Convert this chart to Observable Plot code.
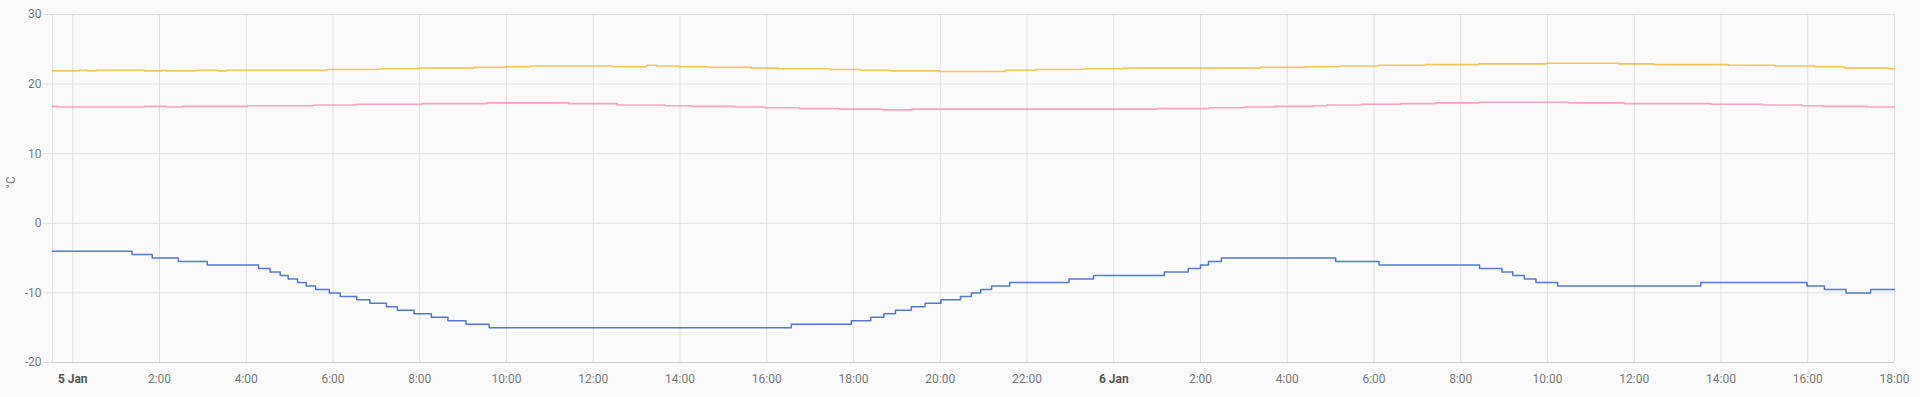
<!DOCTYPE html>
<html><head><meta charset="utf-8">
<script src="https://cdn.jsdelivr.net/npm/d3@7"></script>
<script src="https://cdn.jsdelivr.net/npm/@observablehq/plot@0.6"></script>
<style>
html,body{margin:0;padding:0;background:#fafafa;}
</style></head><body><div id="chart"></div>
<script>
// Time window ("D HH:MM", January)
const windowStart = "4 23:32";
const windowEnd = "6 18:00";

// Outdoor temperature (blue)
const outdoorTimes = ["4 23:32","5 01:22","5 01:50","5 02:26","5 03:06","5 04:17","5 04:33","5 04:47","5 04:58","5 05:11","5 05:23","5 05:36","5 05:55","5 06:10","5 06:33","5 06:51","5 07:14","5 07:29","5 07:52","5 08:16","5 08:39","5 09:04","5 09:36","5 16:34","5 17:57","5 18:24","5 18:42","5 18:58","5 19:20","5 19:39","5 20:01","5 20:28","5 20:43","5 20:56","5 21:11","5 21:36","5 22:58","5 23:32","6 01:10","6 01:43","6 02:00","6 02:11","6 02:29","6 05:07","6 06:07","6 08:26","6 08:57","6 09:12","6 09:28","6 09:44","6 10:14","6 13:32","6 15:59","6 16:23","6 16:53","6 17:27"];
const outdoorValues = [-4,-4.5,-5,-5.5,-6,-6.5,-7,-7.5,-8,-8.5,-9,-9.5,-10,-10.5,-11,-11.5,-12,-12.5,-13,-13.5,-14,-14.5,-15,-14.5,-14,-13.5,-13,-12.5,-12,-11.5,-11,-10.5,-10,-9.5,-9,-8.5,-8,-7.5,-7,-6.5,-6,-5.5,-5,-5.5,-6,-6.5,-7,-7.5,-8,-8.5,-9,-8.5,-9,-9.5,-10,-9.5];

// Living room temperature (yellow)
const livingTimes = ["4 23:32","5 00:09","5 00:20","5 00:33","5 01:39","5 02:04","5 02:09","5 02:52","5 03:21","5 03:33","5 05:51","5 07:04","5 07:57","5 09:15","5 09:58","5 10:33","5 12:27","5 13:14","5 13:27","5 13:58","5 14:39","5 15:39","5 16:16","5 17:27","5 18:10","5 18:51","5 19:59","5 21:30","5 22:12","5 23:18","6 00:13","6 03:23","6 04:25","6 05:12","6 06:07","6 07:12","6 08:25","6 09:58","6 11:39","6 12:27","6 14:10","6 15:15","6 16:09","6 16:51","6 17:52"];
const livingValues = [21.9,22.0,21.9,22.0,21.9,22.0,21.9,22.0,21.9,22.0,22.1,22.2,22.3,22.4,22.5,22.6,22.5,22.7,22.6,22.5,22.4,22.3,22.2,22.1,22.0,21.9,21.8,22.0,22.1,22.2,22.3,22.4,22.5,22.6,22.7,22.8,22.9,23.0,22.9,22.8,22.7,22.6,22.5,22.3,22.2];

// Bedroom temperature (pink)
const bedroomTimes = ["4 23:32","4 23:39","5 01:39","5 02:09","5 02:32","5 04:02","5 05:33","5 06:33","5 08:03","5 09:33","5 11:26","5 12:33","5 13:39","5 14:15","5 15:16","5 15:57","5 16:45","5 17:40","5 18:40","5 19:21","6 01:00","6 02:12","6 03:00","6 03:43","6 04:36","6 04:55","6 05:43","6 06:37","6 07:25","6 08:25","6 10:29","6 11:46","6 13:46","6 14:58","6 15:52","6 16:21","6 17:22"];
const bedroomValues = [16.8,16.7,16.8,16.7,16.8,16.9,17.0,17.1,17.2,17.3,17.2,17.0,16.9,16.8,16.7,16.6,16.5,16.4,16.3,16.4,16.5,16.6,16.7,16.8,16.9,17.0,17.1,17.2,17.3,17.4,17.3,17.2,17.1,17.0,16.9,16.8,16.7];

const yTicks = [-20, -10, 0, 10, 20, 30];
const yLabel = "°C";
const monthName = "Jan";

const colors = {outdoor: "#4269d0", living: "#efb118", bedroom: "#ff8ab7"};

function parseT(s) {
  const [d, hm] = s.split(" ");
  const [h, m] = hm.split(":").map(Number);
  return new Date(2025, 0, +d, h, m);
}
const start = parseT(windowStart), end = parseT(windowEnd);
function series(times, values) {
  const rows = times.map((t, i) => ({t: parseT(t), v: values[i]}));
  rows.push({t: end, v: values[values.length - 1]});
  return rows;
}
const outdoor = series(outdoorTimes, outdoorValues);
const living = series(livingTimes, livingValues);
const bedroom = series(bedroomTimes, bedroomValues);

const xTicks = d3.timeHour.every(2).range(d3.timeHour.ceil(start), new Date(+end + 1));
const midnightTicks = xTicks.filter(d => d.getHours() === 0);
const hourTicks = xTicks.filter(d => d.getHours() !== 0);

const chart = Plot.plot({
  width: 1920, height: 397,
  marginLeft: 52, marginRight: 26, marginTop: 14, marginBottom: 35,
  style: {background: "#fafafa", fontFamily: "Roboto, sans-serif", fontSize: "12px", overflow: "visible"},
  x: {type: "time", domain: [start, end]},
  y: {domain: [-20, 30]},
  marks: [
    Plot.gridX(xTicks, {stroke: "#e2e2e2", strokeOpacity: 1}),
    Plot.gridY(yTicks, {stroke: "#e2e2e2", strokeOpacity: 1}),
    Plot.ruleX([start], {stroke: "#e2e2e2"}),
    Plot.axisY(yTicks, {tickSize: 9, tickPadding: 2, stroke: "#e2e2e2", fill: "#7a7a7a", label: null, tickFormat: d => String(d)}),
    Plot.text([yLabel], {frameAnchor: "left", dx: -41, rotate: -90, fill: "#7a7a7a", fontSize: 12}),
    Plot.ruleY([-20], {stroke: "#cfcfcf"}),
    Plot.axisX(hourTicks, {tickSize: 0, tickPadding: 12, fill: "#7a7a7a", label: null, tickFormat: d => `${d.getHours()}:00`}),
    Plot.axisX(midnightTicks, {tickSize: 0, tickPadding: 12, fill: "#555", fontWeight: "bold", label: null, tickFormat: d => `${d.getDate()} ${monthName}`}),
    Plot.line(living, {x: "t", y: "v", curve: "step-after", stroke: colors.living, strokeOpacity: 0.72, strokeWidth: 1.6}),
    Plot.line(bedroom, {x: "t", y: "v", curve: "step-after", stroke: colors.bedroom, strokeOpacity: 0.8, strokeWidth: 1.6}),
    Plot.line(outdoor, {x: "t", y: "v", curve: "step-after", stroke: colors.outdoor, strokeOpacity: 0.9, strokeWidth: 1.5})
  ]
});
document.getElementById("chart").appendChild(chart);
</script>
</body></html>
